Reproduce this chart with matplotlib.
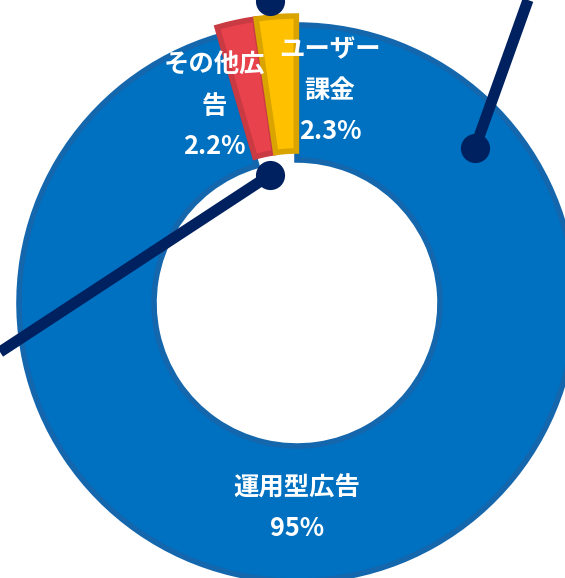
import matplotlib
matplotlib.use("Agg")
import matplotlib.pyplot as plt

plt.rcParams['font.family'] = ['Noto Sans CJK JP', 'DejaVu Sans']

# ---- data ----
categories = ['ユーザー課金', 'その他広告', '運用型広告']
display_labels = ['ユーザー\n課金', 'その他広\n告', '運用型広告']
values = [2.3, 2.2, 95]
pct_labels = ['2.3%', '2.2%', '95%']
colors = ['#FFC000', '#E8424C', '#0070C0']
edge_colors = ['#D9A300', '#C93A42', '#1466AD']

# overlay navy line series (figure pixel coords, y from top)
line_a_x = [0, 270]
line_a_y = [352, 175]
line_b_x = [528, 475]
line_b_y = [0, 148]
dot_x = [270, 270, 475]
dot_y = [175, 1, 148]

W, H = 565, 578
fig = plt.figure(figsize=(W / 100, H / 100), dpi=100)
ax = fig.add_axes([0, 0, 1, 1])

cx, cy = 297, H - 303
R = 278
width = 135
explode = [9, 9, 0]

wedges, _ = ax.pie(values, colors=colors, startangle=90, counterclock=True,
                   radius=R, center=(cx, cy), explode=explode, frame=True,
                   wedgeprops=dict(width=width, linewidth=4))
for w, ec, z in zip(wedges, edge_colors, [3, 2, 1]):
    w.set_edgecolor(ec)
    w.set_zorder(z)

# labels
label_pos = [(330, 91), (214, 106), (297, 508)]
for (lx, ly), lab, pct in zip(label_pos, display_labels, pct_labels):
    ax.text(lx, H - ly, lab + '\n' + pct, ha='center', va='center',
            color='white', fontsize=18.3, fontweight='bold', linespacing=1.66,
            zorder=4)

navy = '#00215F'
ax.plot(line_a_x, [H - v for v in line_a_y], color=navy, lw=8, solid_capstyle='butt', zorder=5)
ax.plot(line_b_x, [H - v for v in line_b_y], color=navy, lw=8, solid_capstyle='butt', zorder=5)
ax.scatter(dot_x, [H - v for v in dot_y], s=440, color=navy, zorder=6, linewidths=0)

ax.set_xlim(0, W)
ax.set_ylim(0, H)
ax.set_aspect('equal')
ax.axis('off')

fig.savefig('out.png', dpi=100, facecolor='white')
